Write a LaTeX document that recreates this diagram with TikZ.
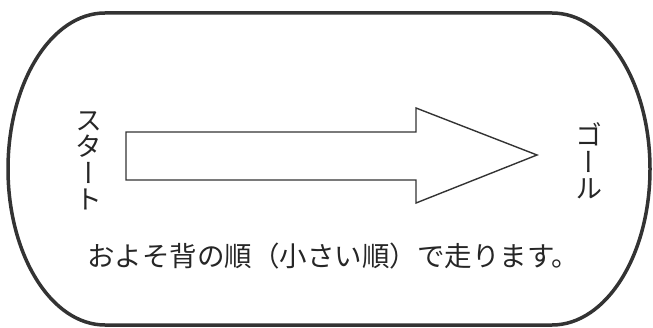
\documentclass[tikz,border=0pt]{standalone}
\usepackage{fontspec}
\usepackage{tikz}
\usetikzlibrary{calc,positioning}
\newfontfamily\jpfont{Noto Sans CJK JP}
\newfontfamily\jpvfont[RawFeature=+vert]{Noto Sans CJK JP}

\begin{document}
\begin{tikzpicture}[x=1pt,y=1pt,
    labelstyle/.style={font=\jpfont\fontsize{27.5}{27.5}\selectfont,text=black!85,inner sep=0pt},
    vertstyle/.style={font=\jpvfont\fontsize{27}{26.5}\selectfont,text=black!85,inner sep=0pt,align=center}]

    \useasboundingbox (0,0) rectangle (653,327);

    \draw[line width=3.5, black!80] (105,314) -- (552,314)
        arc[start angle=90, end angle=-90, x radius=98, y radius=156]
        -- (105,2)
        arc[start angle=270, end angle=90, x radius=97, y radius=156] -- cycle;

    \draw[line width=1.4, black!80] (126,147) -- (126,195) -- (416,195) -- (416,219)
        -- (537,172) -- (416,124) -- (416,147) -- cycle;

    \node[vertstyle] (start) at (89,166) {ス\\タ\\ー\\ト};
    \node[vertstyle] (goal) at (589,166) {ゴ\\ー\\ル};
    \node[labelstyle, anchor=west] (note) at (87,71) {およそ背の順（小さい順）で走ります。};

\end{tikzpicture}
\end{document}
